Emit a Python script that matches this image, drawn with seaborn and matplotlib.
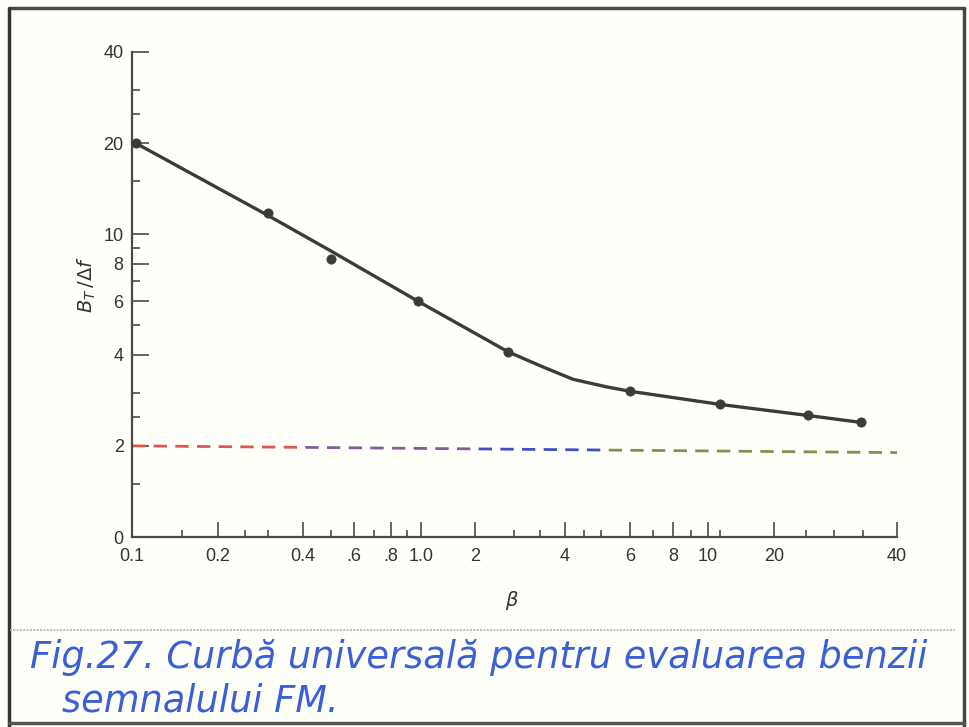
import numpy as np
import pandas as pd
import matplotlib
matplotlib.use("Agg")
import matplotlib.pyplot as plt
from matplotlib.lines import Line2D
from matplotlib.patches import Rectangle
import seaborn as sns

# ---------------- data ----------------
beta_pts = [0.103, 0.3, 0.5, 0.98, 2.58, 6.0, 11.4, 24.2, 32.7]
ratio_pts = [20.0, 11.8, 8.3, 6.0, 4.09, 3.03, 2.74, 2.52, 2.39]

# traced drawn curve (straight from 20 to 6, bends between 2.6 and 6)
curve_beta = [0.103, 0.3, 0.5, 0.98, 2.58, 3.3, 4.2, 5.2, 6.0, 11.4, 24.2, 32.7]
curve_ratio = [20.0, 11.55, 8.8, 6.0, 4.09, 3.68, 3.32, 3.13, 3.03, 2.74, 2.52, 2.39]

# dashed reference line (B_T/Δf ≈ 2)
ref_beta = [0.1, 40.0]
ref_ratio = [2.0, 1.9]

# x axis: the scanned axis is not a clean log axis -> ruler of major ticks
x_major = [0.1, 0.2, 0.4, 0.6, 0.8, 1.0, 2, 4, 6, 8, 10, 20, 40]
x_major_labels = ["0.1", "0.2", "0.4", ".6", ".8", "1.0", "2", "4", "6", "8", "10", "20", "40"]
x_ruler = [132, 218, 303, 354, 391, 421, 475, 565, 630, 673, 708, 774, 897]
x_minor = [0.15, 0.25, 0.3, 0.5, 0.7, 0.9, 2.7, 3.3, 4.5, 5, 7, 9, 11.3, 24, 28, 33]

y_major = [1, 2, 4, 6, 8, 10, 20, 40]
y_major_labels = ["0", "2", "4", "6", "8", "10", "20", "40"]
y_minor = [1.5, 2.5, 3, 5, 7, 9, 15, 25, 30]

caption_1 = "Fig.27. Curbă universală pentru evaluarea benzii"
caption_2 = "semnalului FM."

# ---------------- scale ----------------
LV = np.log10(np.array(x_major, float))
PX = np.array(x_ruler, float)
s0 = (PX[1] - PX[0]) / (LV[1] - LV[0])
s1 = (PX[-1] - PX[-2]) / (LV[-1] - LV[-2])
EXT_LV = np.concatenate([[-8.0], LV, [8.0]])
EXT_PX = np.concatenate([[PX[0] - (LV[0] + 8.0) * s0], PX, [PX[-1] + (8.0 - LV[-1]) * s1]])


def fwd(x):
    x = np.asarray(x, float)
    lx = np.log10(np.clip(x, 1e-8, 1e8))
    return np.interp(lx, EXT_LV, EXT_PX)


def inv(p):
    p = np.asarray(p, float)
    return 10 ** np.interp(p, EXT_PX, EXT_LV)


# ---------------- figure ----------------
sns.set_theme(style="ticks")
plt.rcParams["font.family"] = ["Liberation Sans", "DejaVu Sans"]

W, H = 970, 727
fig = plt.figure(figsize=(W / 100, H / 100), dpi=100)
fig.patch.set_facecolor("#fffffa")
ax = fig.add_axes([132 / W, 1 - 537 / H, (897 - 132) / W, (537 - 52) / H])
ax.set_facecolor("#fffffa")

ax.set_xscale("function", functions=(fwd, inv))
ax.set_yscale("log")
ax.set_xlim(0.1, 40)
ax.set_ylim(1, 40)

ink = "#3b3b3b"

# dashed reference line, coloured in pieces like the scan
for (a, b), col in zip([(0.0, 0.22), (0.22, 0.45), (0.45, 0.62), (0.62, 1.0)],
                       ["#e0564e", "#8a5a9a", "#3f4fc4", "#8d8a50"]):
    ln, = ax.plot(ref_beta, ref_ratio, linestyle=(0, (4.8, 3.0)), color=col, lw=2.0, zorder=2)
    clip = Rectangle((a, 0), b - a, 1, transform=ax.transAxes, visible=False)
    ax.add_patch(clip)
    ln.set_clip_path(clip)

curve_df = pd.DataFrame({"beta": curve_beta, "ratio": curve_ratio})
pts_df = pd.DataFrame({"beta": beta_pts, "ratio": ratio_pts})
sns.lineplot(data=curve_df, x="beta", y="ratio", sort=False, color=ink, lw=2.4,
             ax=ax, zorder=3, estimator=None)
sns.scatterplot(data=pts_df, x="beta", y="ratio", color=ink, s=45, edgecolor=ink,
                linewidth=0.5, ax=ax, zorder=4, clip_on=False)

ax.set_xticks(x_major)
ax.set_xticklabels(x_major_labels)
ax.set_xticks(x_minor, minor=True)
ax.set_xticklabels([], minor=True)
ax.set_yticks(y_major)
ax.set_yticklabels(y_major_labels)
ax.set_yticks(y_minor, minor=True)
ax.set_yticklabels([], minor=True)

ax.tick_params(axis="both", which="both", direction="in", colors=ink, labelcolor="#333333",
               labelsize=13)
ax.tick_params(axis="y", which="major", length=12, width=1.1, pad=6)
ax.tick_params(axis="y", which="minor", length=6, width=1.1)
ax.tick_params(axis="x", which="major", length=11, width=1.1, pad=8)
ax.tick_params(axis="x", which="minor", length=5, width=1.1)

for side in ["top", "right"]:
    ax.spines[side].set_visible(False)
for side in ["left", "bottom"]:
    ax.spines[side].set_color("#4a4a4a")
    ax.spines[side].set_linewidth(1.6)

ax.set_xlabel(r"$\beta$", fontsize=14, color="#333333")
ax.xaxis.set_label_coords(0.497, -0.108)
ax.set_ylabel(r"$B_T\,/\Delta f$", fontsize=14, color="#333333")
ax.yaxis.set_label_coords(-0.045, 0.52)

# scanned page frame
def fline(xs, ys, **kw):
    fig.add_artist(Line2D([x / W for x in xs], [1 - y / H for y in ys], **kw))

fline([10, 964], [8, 8], color="#4a4a4a", lw=2.5)
fline([9, 9], [8, 727], color="#333333", lw=2.5)
fline([964, 964], [8, 727], color="#444444", lw=2.5)
fline([9, 964], [723, 723], color="#555555", lw=2.5)
fline([10, 955], [630, 630], color="#b9a9aa", lw=1.2, linestyle=(0, (1.2, 0.8)))

blue = "#3a5fd6"
fig.text(30 / W, 1 - 658 / H, caption_1, color=blue, fontsize=26.5, style="italic",
         family=["DejaVu Sans"], va="center", ha="left")
fig.text(62 / W, 1 - 701 / H, caption_2, color=blue, fontsize=26.5, style="italic",
         family=["DejaVu Sans"], va="center", ha="left")

fig.savefig("out.png", dpi=100, facecolor=fig.get_facecolor())
